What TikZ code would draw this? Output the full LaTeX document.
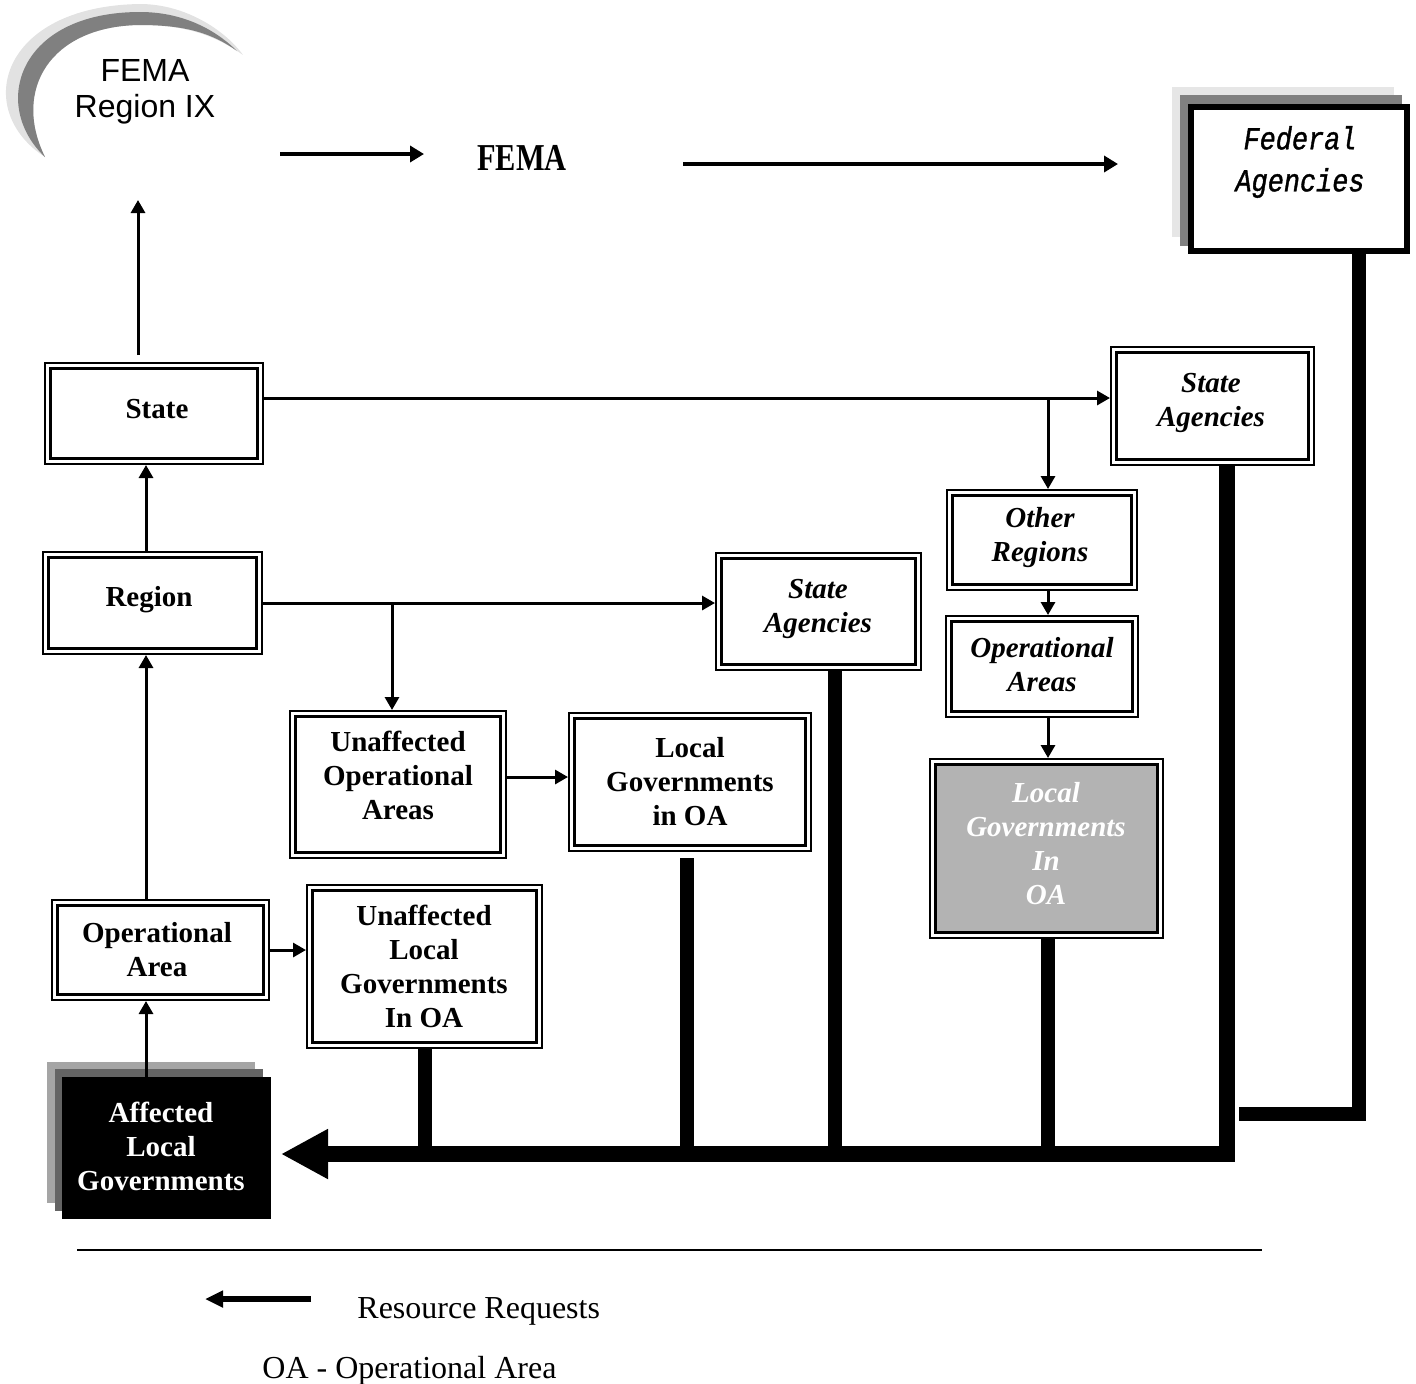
\documentclass[tikz,border=0pt]{standalone}
\usepackage{fontspec}
\usepackage{graphicx}
\setmainfont{Liberation Serif}
\newfontfamily\arialfont{Liberation Sans}
\newfontfamily\fedfont[FakeStretch=0.84,FakeBold=1.2]{Liberation Mono}
\usetikzlibrary{arrows.meta}
\definecolor{boxgray}{RGB}{179,179,179}
\definecolor{shadelight}{RGB}{230,230,230}
\definecolor{shadedark}{RGB}{128,128,128}
\definecolor{affdark}{RGB}{100,100,100}
\definecolor{afflight}{RGB}{165,165,165}
\definecolor{swlight}{RGB}{226,226,226}
\definecolor{swdark}{RGB}{128,128,128}
\tikzset{
  dbox/.style={draw, line width=1pt, fill=white, inner sep=0pt,
    path picture={\draw[line width=1.5pt]
      ([shift={(2.75pt,-2.75pt)}]path picture bounding box.north west) rectangle
      ([shift={(-2.75pt,2.75pt)}]path picture bounding box.south east);}},
  gbox/.style={draw, line width=1pt, fill=white, inner sep=0pt,
    path picture={\filldraw[line width=1.5pt, fill=boxgray]
      ([shift={(2.75pt,-2.75pt)}]path picture bounding box.north west) rectangle
      ([shift={(-2.75pt,2.75pt)}]path picture bounding box.south east);}},
  txt/.style={align=center, inner sep=0pt, font=\fontsize{14.5}{17}\selectfont\bfseries},
  itxt/.style={txt, font=\fontsize{14.5}{17}\selectfont\bfseries\itshape},
  arr/.style={line width=1.5pt, -{Triangle[length=6.5pt,width=7pt]}},
  toparr/.style={line width=2pt, -{Triangle[length=7pt,width=8pt]}},
  bar/.style={line width=7pt},
}
\begin{document}
\begin{tikzpicture}[x=0.5pt,y=-0.5pt]
\useasboundingbox (0,0) rectangle (1416,1383);

% swoosh of FEMA Region IX
\fill[swlight] (45,157) .. controls (-28,110) and (0,6) .. (140,4)
  .. controls (185,4) and (225,30) .. (243,55)
  .. controls (215,35) and (185,25) .. (140,25)
  .. controls (50,26) and (12,90) .. (45,157) -- cycle;
\fill[swdark] (45,157) .. controls (-10,105) and (18,12) .. (140,12)
  .. controls (188,12) and (220,34) .. (237,51)
  .. controls (212,33) and (185,25) .. (140,25)
  .. controls (50,26) and (12,90) .. (45,157) -- cycle;
\node[align=center, font=\arialfont\fontsize{16}{18}\selectfont] (r9) at (145,92) {FEMA\\Region IX};

% FEMA
\node (fema) at (522,158) {\scalebox{0.8}[1]{\fontsize{19}{19}\selectfont\bfseries FEMA}};
\coordinate (a1s) at (280,154); \coordinate (a1e) at (424,154);
\coordinate (a2s) at (683,164); \coordinate (a2e) at (1118,164);
\draw[toparr] (a1s) -- (a1e);
\draw[toparr] (a2s) -- (a2e);

% Federal Agencies
\fill[shadelight] (1172,87) rectangle (1394,237);
\fill[shadedark] (1180,95) rectangle (1402,246);
\node[draw, line width=3pt, fill=white, inner sep=0pt, minimum width=108pt, minimum height=72pt] (fed) at (1299,179) {};
\node[align=center, inner sep=0pt, font=\fedfont\itshape\fontsize{16}{21}\selectfont] (fedtxt) at (1300,162) {Federal\\Agencies};

% boxes
\node[dbox, minimum width=109pt, minimum height=50.5pt] (state) at (154,413.5) {};
\node[txt] (statet) at (157,409) {State};
\node[dbox, minimum width=109.5pt, minimum height=51pt] (region) at (152.5,603) {};
\node[txt] (regiont) at (149,600) {Region};
\node[dbox, minimum width=101.5pt, minimum height=59pt] (sa1) at (1212.5,406) {};
\node[itxt] (sa1t) at (1211,403) {State\\Agencies};
\node[dbox, minimum width=95pt, minimum height=50pt] (other) at (1042,540) {};
\node[itxt] (othert) at (1040,537.5) {Other\\Regions};
\node[dbox, minimum width=96pt, minimum height=50.5pt] (opareas) at (1042,666.5) {};
\node[itxt] (opareast) at (1042,664.5) {Operational\\Areas};
\node[dbox, minimum width=102.5pt, minimum height=58.5pt] (sa2) at (818.5,611.5) {};
\node[itxt] (sa2t) at (818,609) {State\\Agencies};
\node[dbox, minimum width=108pt, minimum height=73.5pt] (uoa) at (398,784.5) {};
\node[txt] (uoat) at (398,775.5) {Unaffected\\Operational\\Areas};
\node[dbox, minimum width=121pt, minimum height=69pt] (lgoa) at (690,782) {};
\node[txt] (lgoat) at (690,782) {Local\\Governments\\in OA};
\node[dbox, minimum width=108.5pt, minimum height=50pt] (oa) at (160.5,950) {};
\node[txt] (oat) at (157,950) {Operational\\Area};
\node[dbox, minimum width=117.5pt, minimum height=81.5pt] (ulg) at (424.5,966.5) {};
\node[txt] (ulgt) at (424,966) {Unaffected\\Local\\Governments\\In OA};
\node[gbox, minimum width=116.5pt, minimum height=89.5pt] (lggray) at (1046.5,848.5) {};
\node[itxt, text=white] (lggrayt) at (1046,843.5) {Local\\Governments\\In\\OA};

% Affected Local Governments
\fill[afflight] (47,1062) rectangle (255,1203);
\fill[affdark] (55,1069) rectangle (263,1211);
\node[fill=black, inner sep=0pt, minimum width=104.5pt, minimum height=71pt] (aff) at (166.5,1148) {};
\node[txt, text=white] (afft) at (161,1146) {Affected\\Local\\Governments};

% thin connectors
\coordinate (upend) at (138,200);
\draw[arr, shorten <=3.5pt] (upend |- state.north) -- (upend);
\draw[arr] ([xshift=-3.25pt]region.north) -- ([xshift=-3.25pt]region.north |- state.south);
\draw[arr] ([xshift=-7.25pt]oa.north) -- ([xshift=-7.25pt]oa.north |- region.south);
\draw[arr] ([xshift=-10.25pt]aff.north) -- ([xshift=-10.25pt]aff.north |- oa.south);
\draw[arr] (oa.east) -- (oa.east -| ulg.west);
\draw[arr] ([yshift=7.75pt]state.east) -- ([yshift=7.75pt]state.east -| sa1.west);
\coordinate (brA) at (1048,398);
\draw[arr] (brA) -- (brA |- other.north);
\draw[arr] (region.east) -- (region.east -| sa2.west);
\coordinate (brB) at (392,603);
\draw[arr] (brB) -- (brB |- uoa.north);
\draw[arr] ([yshift=3.75pt]uoa.east) -- ([yshift=3.75pt]uoa.east -| lgoa.west);
\draw[arr] ([xshift=3pt]other.south) -- ([xshift=3pt]other.south |- opareas.north);
\draw[arr] ([xshift=3pt]opareas.south) -- ([xshift=3pt]opareas.south |- lggray.north);

% thick resource bars
\coordinate (tip) at (281,1154);
\draw[bar] (ulg.south) -- (ulg.south |- tip);
\draw[bar, shorten <=3pt] ([xshift=-1.5pt]lgoa.south) -- ([xshift=-1.5pt]lgoa.south |- tip);
\draw[bar] ([xshift=8pt]sa2.south) -- ([xshift=8pt]sa2.south |- tip);
\draw[bar] ([xshift=0.75pt]lggray.south) -- ([xshift=0.75pt]lggray.south |- tip);
\draw[line width=8pt, -{Triangle[length=23.5pt,width=23.5pt]}] ([xshift=7pt]sa1.south) |- (tip);
\coordinate (fedend) at (1239,1114);
\draw[bar] ([xshift=30pt]fed.south) |- (fedend);

% legend
\coordinate (lg1) at (77,1250); \coordinate (lg2) at (1262,1250);
\draw[line width=1pt] (lg1) -- (lg2);
\coordinate (la1) at (311,1299); \coordinate (la2) at (205,1299);
\draw[line width=3pt, -{Triangle[length=9pt,width=8pt]}] (la1) -- (la2);
\node[anchor=base west, inner sep=0pt, font=\fontsize{16}{19}\selectfont] (rr) at (357,1318) {Resource Requests};
\node[anchor=base west, inner sep=0pt, font=\fontsize{16}{19}\selectfont] (oadef) at (262,1378) {OA - Operational Area};
\end{tikzpicture}
\end{document}
